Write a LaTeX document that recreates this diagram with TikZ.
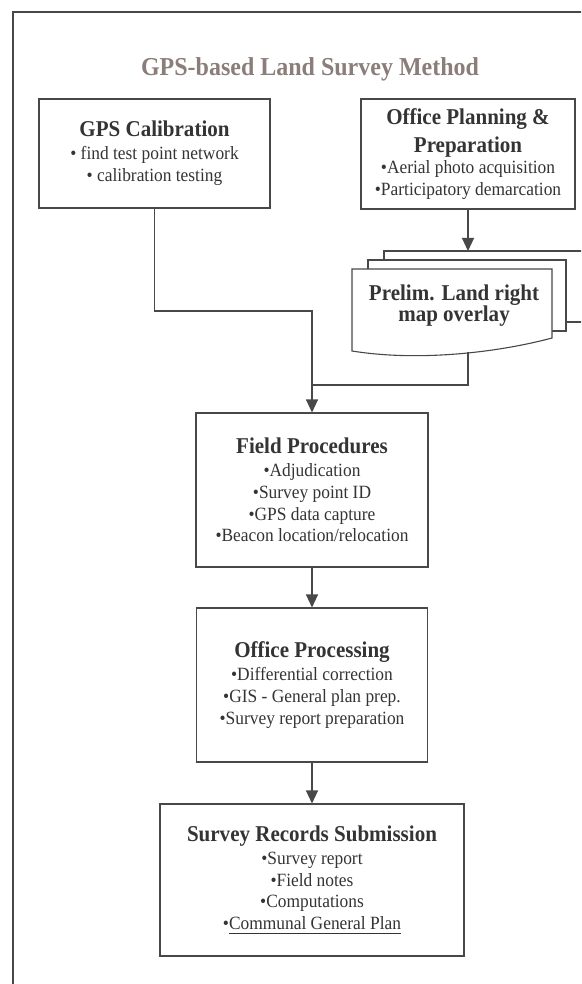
\documentclass[tikz,border=0pt]{standalone}
\usepackage{fontspec}
\setmainfont{Liberation Serif}[FakeStretch=0.93]
\usetikzlibrary{arrows.meta}
\usetikzlibrary{positioning}

\definecolor{linegray}{RGB}{72,72,72}
\definecolor{textgray}{RGB}{52,52,52}
\definecolor{titlebrown}{RGB}{139,125,121}

\tikzset{
  procbox/.style={draw=linegray,line width=1.1pt,fill=white,align=center,text=textgray,
                  font=\fontsize{18.7}{21.7}\selectfont,inner sep=0pt},
  link/.style={draw=linegray,line width=1.1pt},
  flow/.style={link,-{Triangle[length=13pt,width=12pt]}},
  sheet/.style={draw=linegray,line width=1.1pt,fill=white}
}
\newcommand{\boxhead}[1]{{\fontsize{22.6}{21}\selectfont\bfseries #1}}
\newcommand{\underplan}[1]{\begingroup\setbox0\hbox{#1}\rlap{\vrule height -3.3pt depth 4.5pt width \wd0}\box0\endgroup}

\begin{document}
\begin{tikzpicture}[x=1pt,y=-1pt,node distance=195pt]
 \useasboundingbox (0,0) rectangle (581,984);
 \clip (0,0) rectangle (581,984);
 \draw[link] (13,12) rectangle (640,1010);

 \node[name=title,anchor=base,text=titlebrown,font=\fontsize{25.8}{24}\selectfont\bfseries] at (310,76) {GPS-based Land Survey Method};

 \node[procbox,name=gps, minimum width=231pt,minimum height=109pt] at (154.5,153.5)
   {\boxhead{GPS Calibration}\\[1.3pt] • find test point network\\ • calibration testing};
 \node[procbox,name=plan,minimum width=214pt,minimum height=110pt] at (468,154)
   {\boxhead{Office Planning \&}\\[6.3pt] \boxhead{Preparation}\\ •Aerial photo acquisition\\ •Participatory demarcation};

 \draw[sheet] (384,251) rectangle (600,322);
 \draw[sheet] (368,260) rectangle (566,331);
 \draw[sheet] (352,269) -- (552,269) -- (552,338) .. controls (500,352) and (420,362) .. (352,351) -- cycle;
 \node[name=prelim,align=center,text=textgray,font=\fontsize{22.6}{21}\selectfont\bfseries] at (454,305.5) {Prelim. Land right\\map overlay};

 \node[procbox,name=field,minimum width=232pt,minimum height=154pt] at (312,490)
   {\boxhead{Field Procedures}\\[1.3pt] •Adjudication\\ •Survey point ID\\ •GPS data capture\\ •Beacon location/relocation};
 \node[procbox,below of=field,name=proc,minimum width=231pt,minimum height=154pt]
   {\boxhead{Office Processing}\\[1.3pt] •Differential correction\\ •GIS - General plan prep.\\ •Survey report preparation};
 \node[procbox,below of=proc, name=rec, minimum width=304pt,minimum height=152pt]
   {\boxhead{Survey Records Submission}\\[1.3pt] •Survey report\\ •Field notes\\ •Computations\\ •\underplan{Communal General Plan}};

 \coordinate (stacktop)   at (468,251);
 \coordinate (prelimfoot) at (468,352);
 \coordinate (merge)      at (312,311);
 \coordinate (join)       at (312,385);

 \draw[flow] (plan.south) -- (stacktop);
 \draw[flow] (gps.south) |- (merge) -- (field.north);
 \draw[link] (prelimfoot) |- (join);
 \draw[flow] (field) -- (proc);
 \draw[flow] (proc)  -- (rec);
\end{tikzpicture}
\end{document}
